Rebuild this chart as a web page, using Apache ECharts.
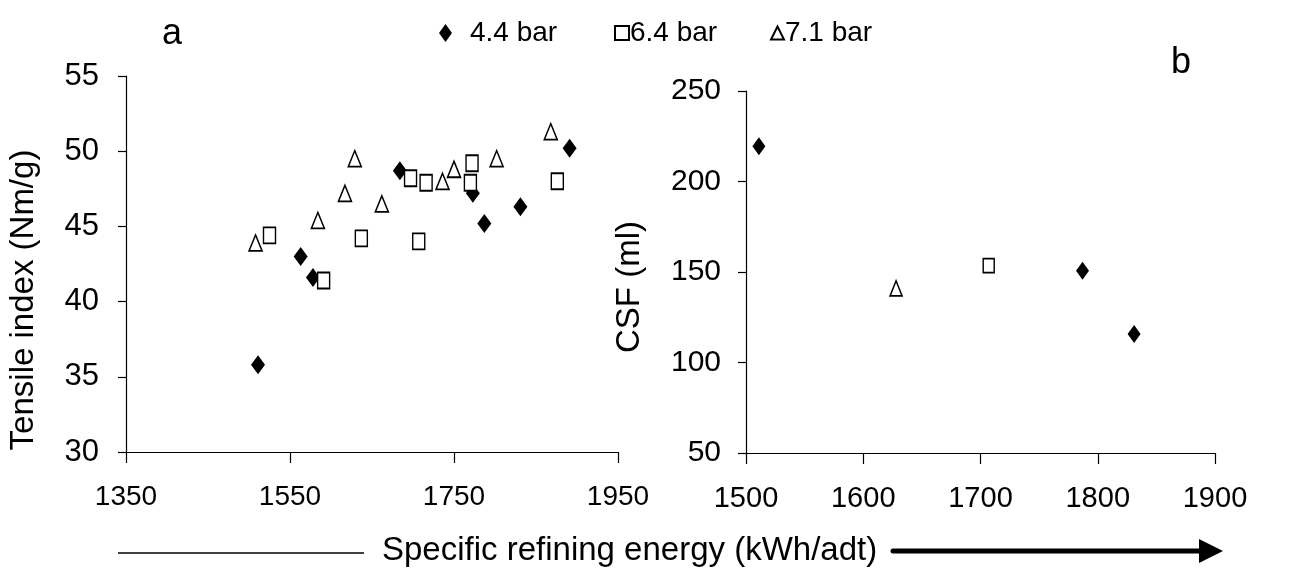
<!DOCTYPE html>
<html>
<head>
<meta charset="utf-8">
<script src="https://cdn.jsdelivr.net/npm/echarts@6/dist/echarts.min.js"></script>
<style>html,body{margin:0;padding:0;background:#fff}#c{width:1299px;height:568px}</style>
</head>
<body>
<div id="c"></div>
<script>
// Panel a: tensile index vs specific refining energy
var x44a = [1511, 1563, 1578, 1684, 1773, 1787, 1831, 1891];
var y44a = [35.8, 43.0, 41.6, 48.7, 47.2, 45.2, 46.3, 50.2];
var x64a = [1525, 1591, 1637, 1697, 1716, 1707, 1772, 1770, 1876];
var y64a = [44.4, 41.4, 44.2, 48.2, 47.9, 44.0, 49.2, 47.9, 48.0];
var x71a = [1508, 1584, 1617, 1629, 1662, 1736, 1750, 1802, 1868];
var y71a = [43.9, 45.4, 47.2, 49.5, 46.5, 48.0, 48.8, 49.5, 51.3];
// Panel b: CSF vs specific refining energy
var x44b = [1511, 1787, 1831];
var y44b = [219.5, 150.7, 115.8];
var x64b = [1707];
var y64b = [153.5];
var x71b = [1628];
var y71b = [141];
var seriesNames = ['4.4 bar', '6.4 bar', '7.1 bar'];
var axisTitles = ['Tensile index (Nm/g)', 'CSF (ml)', 'Specific refining energy (kWh/adt)'];
var panelLabels = ['a', 'b'];

function pairs(xs, ys) { return xs.map(function (x, i) { return [x, ys[i]]; }); }

var FONT = 'Liberation Sans, Arial, sans-serif';
var plain = function (v) { return String(v); };
var axisCommon = {
  axisLine: { show: true, lineStyle: { color: '#000', width: 1.2 } },
  splitLine: { show: false }
};
function xAx(gi, min, max, itv, fs) {
  return Object.assign({}, axisCommon, {
    type: 'value', gridIndex: gi, min: min, max: max, interval: itv,
    axisTick: { show: true, inside: false, length: 11, lineStyle: { color: '#000', width: 1.2 } },
    axisLabel: { color: '#000', fontFamily: FONT, fontSize: fs, margin: 31, formatter: plain, showMaxLabel: true, showMinLabel: true }
  });
}
function yAx(gi, min, max, itv, name, gap, shift, fs, margin) {
  return Object.assign({}, axisCommon, {
    type: 'value', gridIndex: gi, min: min, max: max, interval: itv,
    name: name, nameLocation: 'middle', nameGap: gap,
    nameTextStyle: { color: '#000', fontFamily: FONT, fontSize: 33, padding: [0, shift, 0, 0] },
    axisTick: { show: true, inside: false, length: 8, lineStyle: { color: '#000', width: 1.2 } },
    axisLabel: { color: '#000', fontFamily: FONT, fontSize: fs, margin: margin, formatter: plain }
  });
}
var diamondStyle = { color: '#000', opacity: 1 };
var hollowStyle = { color: '#fff', borderColor: '#000', borderWidth: 1.6, opacity: 1 };

function mkSeries(name, gi, data, sym, size, style) {
  return { name: name, type: 'scatter', xAxisIndex: gi, yAxisIndex: gi, data: data,
    symbol: sym, symbolSize: size, itemStyle: style, emphasis: { disabled: true }, z: 3 };
}

var legendBase = { orient: 'horizontal', top: 14, textStyle: { color: '#000', fontFamily: FONT, fontSize: 28 }, selectedMode: false };

var option = {
  backgroundColor: '#fff',
  animation: false,
  title: [
    { text: panelLabels[0], left: 157, top: 11, textStyle: { fontFamily: FONT, fontSize: 36, fontWeight: 'normal', color: '#000' } },
    { text: panelLabels[1], left: 1166, top: 40, textStyle: { fontFamily: FONT, fontSize: 36, fontWeight: 'normal', color: '#000' } }
  ],
  legend: [
    Object.assign({}, legendBase, { left: 434, data: [seriesNames[0]], itemWidth: 13, itemHeight: 18,
      textStyle: Object.assign({}, legendBase.textStyle, { padding: [0, 0, 0, 13] }) }),
    Object.assign({}, legendBase, { left: 609, data: [seriesNames[1]], itemWidth: 14, itemHeight: 14,
      textStyle: Object.assign({}, legendBase.textStyle, { padding: [0, 0, 0, -4] }) }),
    Object.assign({}, legendBase, { left: 765, data: [seriesNames[2]], itemWidth: 13, itemHeight: 13,
      textStyle: Object.assign({}, legendBase.textStyle, { padding: [0, 0, 0, -4] }) })
  ],
  grid: [
    { left: 126, right: 681, top: 76, bottom: 116, containLabel: false },
    { left: 746, right: 84, top: 91, bottom: 115, containLabel: false }
  ],
  xAxis: [xAx(0, 1350, 1950, 200, 28), xAx(1, 1500, 1900, 100, 29)],
  yAxis: [
    yAx(0, 30, 55, 5, axisTitles[0], 86, 72, 31, 27),
    yAx(1, 50, 250, 50, axisTitles[1], 100, 30, 30, 25)
  ],
  series: [
    mkSeries(seriesNames[0], 0, pairs(x44a, y44a), 'diamond', [14, 19], diamondStyle),
    mkSeries(seriesNames[1], 0, pairs(x64a, y64a), 'rect', [12, 16], hollowStyle),
    mkSeries(seriesNames[2], 0, pairs(x71a, y71a), 'triangle', [13, 16], hollowStyle),
    mkSeries(seriesNames[0], 1, pairs(x44b, y44b), 'diamond', [13, 18], diamondStyle),
    mkSeries(seriesNames[1], 1, pairs(x64b, y64b), 'rect', [11, 14], hollowStyle),
    mkSeries(seriesNames[2], 1, pairs(x71b, y71b), 'triangle', [12, 15], hollowStyle)
  ],
  graphic: [
    { type: 'line', shape: { x1: 118, y1: 553, x2: 364, y2: 553 }, style: { stroke: '#000', lineWidth: 1.5 } },
    { type: 'text', left: 382, top: 534, style: { text: axisTitles[2], fontFamily: FONT, fontSize: 33, fill: '#000' } },
    { type: 'line', shape: { x1: 893, y1: 551, x2: 1205, y2: 551 }, style: { stroke: '#000', lineWidth: 5, lineCap: 'round' } },
    { type: 'polygon', shape: { points: [[1199, 539], [1223, 551], [1199, 563]] }, style: { fill: '#000' } }
  ]
};
var chart = echarts.init(document.getElementById('c'), null, { renderer: 'canvas' });
chart.setOption(option);
</script>
</body>
</html>
